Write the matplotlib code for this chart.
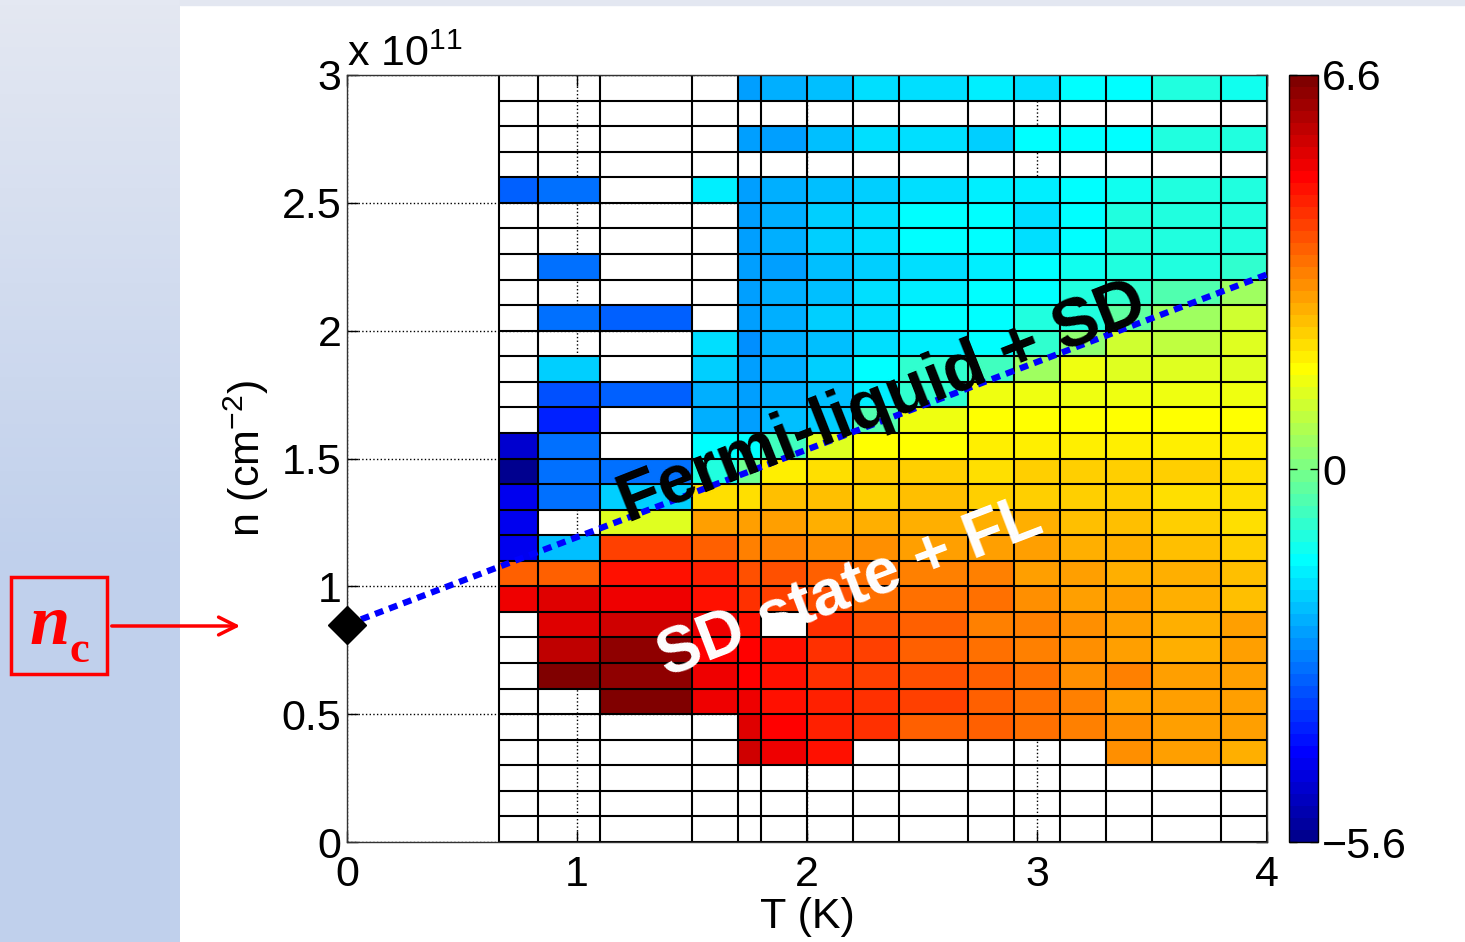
import numpy as np
import matplotlib
matplotlib.use('Agg')
import matplotlib.pyplot as plt
from matplotlib.patches import Rectangle
from matplotlib.colors import ListedColormap
from matplotlib.ticker import FuncFormatter

plt.rcParams['font.family'] = ['Liberation Sans', 'DejaVu Sans']
plt.rcParams['mathtext.fontset'] = 'custom'
plt.rcParams['mathtext.rm'] = 'Liberation Sans'
plt.rcParams['mathtext.it'] = 'Liberation Sans:italic'
plt.rcParams['mathtext.bf'] = 'Liberation Sans:bold'

nan = np.nan

# cell edges: temperature (K) and density (x 1e11 cm^-2)
T_edges = [0.66, 0.83, 1.1, 1.5, 1.7, 1.8, 2.0, 2.2, 2.4, 2.7, 2.9, 3.1, 3.3, 3.5, 3.8, 4.0]
n_edges = [0.0, 0.1, 0.2, 0.3, 0.4, 0.5, 0.6, 0.7, 0.8, 0.9, 1.0, 1.1, 1.2, 1.3, 1.4, 1.5,
           1.6, 1.7, 1.8, 1.9, 2.0, 2.1, 2.2, 2.3, 2.4, 2.5, 2.6, 2.7, 2.8, 2.9, 3.0]

# cell values, one list per density row, top row (2.9-3.0) first
empty = [nan] * 15
rows_top_down = [
    [nan, nan, nan, nan, -2.27, -2.08, -1.8, -1.51, -1.45, -1.32, -1.45, -1.1, -1.1, -0.8, -0.95],
    empty,
    [nan, nan, nan, nan, -2.2, -2.2, -1.9, -1.51, -1.5, -1.7, -1.1, -1.1, -1.1, -0.8, -0.8],
    empty,
    [-3.03, -2.84, nan, -1.32, -2.27, -2.08, -1.89, -1.7, -1.5, -1.35, -1.35, -1.1, -0.9, -0.75, -0.75],
    [nan, nan, nan, nan, -2.27, -2.05, -1.7, -1.51, -1.15, -1.1, -1.45, -1.1, -0.8, -0.75, -0.75],
    [nan, nan, nan, nan, -2.27, -2.08, -1.7, -1.51, -1.1, -1.15, -1.45, -1.1, -0.8, -0.8, -0.75],
    [nan, -2.9, nan, nan, -2.35, -2.2, -1.89, -1.65, -1.5, -1.35, -1.1, -0.95, -0.7, -0.7, -0.55],
    [nan, nan, nan, nan, -2.27, -2.05, -1.8, -1.5, -1.3, -1.1, -1.13, -0.8, -0.55, -0.2, 0.78],
    [nan, -2.9, -3.03, nan, -2.27, -2.05, -1.7, -1.5, -1.13, -1.1, -0.8, -0.7, 0.02, 0.78, 1.36],
    [nan, nan, nan, -1.51, -2.46, -2.08, -1.89, -1.5, -1.3, -1.1, -0.55, 0.59, 1.36, 1.2, 1.55],
    [nan, -1.7, nan, -1.7, -2.27, -2.05, -1.7, -1.1, -0.55, -0.4, 0.78, 1.74, 1.55, 1.55, 1.55],
    [nan, -3.22, -3.1, -2.08, -2.27, -2.05, -1.8, -1.3, -0.55, 1.74, 1.74, 1.74, 1.74, 1.65, 1.74],
    [nan, -3.79, nan, -2.05, -2.27, -1.95, -1.65, -0.2, 1.65, 1.93, 1.93, 1.93, 1.93, 1.93, 1.93],
    [-4.65, -2.84, nan, -1.1, -1.1, -0.45, 1.55, 1.85, 1.93, 2.12, 2.12, 2.12, 2.12, 2.12, 2.12],
    [-5.5, -2.84, -2.84, -0.75, 0.21, 2.12, 2.34, 2.43, 2.48, 2.39, 2.48, 2.48, 2.54, 2.43, 2.25],
    [-4.36, -2.84, -1.7, 2.39, 2.29, 2.66, 2.66, 2.57, 2.71, 2.57, 2.54, 2.48, 2.48, 2.34, 2.37],
    [-4.36, nan, 1.55, 3.0, 3.0, 3.0, 2.94, 2.94, 2.85, 2.8, 2.8, 2.69, 2.62, 2.48, 2.39],
    [-4.36, -1.89, 4.22, 3.76, 3.46, 3.46, 3.31, 3.31, 3.15, 3.15, 3.0, 2.94, 2.85, 2.69, 2.54],
    [3.91, 3.91, 4.7, 4.67, 4.06, 3.96, 3.76, 3.61, 3.46, 3.5, 3.15, 3.08, 2.94, 2.8, 2.69],
    [5.17, 5.36, 5.17, 4.83, 4.47, 4.28, 4.01, 3.68, 3.61, 3.61, 3.31, 3.08, 3.15, 2.85, 2.69],
    [nan, 5.36, 5.59, 5.1, 4.83, nan, 4.42, 4.06, 3.82, 3.52, 3.52, 3.31, 3.08, 2.94, 2.99],
    [nan, 5.74, 6.38, 4.9, 4.93, 4.83, 4.37, 4.22, 3.91, 3.61, 3.54, 3.31, 3.08, 2.85, 2.99],
    [nan, 6.45, 6.35, 5.25, 4.93, 4.83, 4.37, 4.13, 4.01, 3.82, 3.66, 3.31, 3.4, 3.08, 3.03],
    [nan, nan, 6.45, 5.17, 5.17, 4.83, 4.61, 4.37, 4.19, 3.82, 3.66, 3.52, 3.08, 3.08, 2.99],
    [nan, nan, nan, nan, 5.44, 4.93, 4.52, 4.37, 3.91, 3.87, 3.66, 3.54, 3.31, 3.08, 2.99],
    [nan, nan, nan, nan, 5.59, 5.17, 4.79, nan, nan, nan, nan, nan, 3.31, 3.08, 2.94],
    empty,
    empty,
    empty,
]

cmin, cmax = -5.6, 6.6
cbar_ticks = [-5.6, 0.33, 6.6]
cbar_labels = ['\u22125.6', '0', '6.6']

# crossover line (T, n) and n_c point
line_T = [0.0, 4.0]
line_n = [0.85, 2.22]
nc_T, nc_n = 0.0, 0.85

x_ticks = [0, 1, 2, 3, 4]
y_ticks = [0, 0.5, 1, 1.5, 2, 2.5, 3]


def matlab_jet(n=64):
    # same construction as MATLAB's jet(n)
    m = int(np.ceil(n / 4))
    u = np.concatenate([np.arange(1, m + 1) / m, np.ones(m - 1), np.arange(m, 0, -1) / m])
    g = int(np.ceil(m / 2)) - (1 if n % 4 == 1 else 0) + np.arange(1, len(u) + 1)
    r = g + m
    b = g - m
    g = g[g <= n]
    r = r[r <= n]
    b = b[b >= 1]
    J = np.zeros((n, 3))
    J[r - 1, 0] = u[:len(r)]
    J[g - 1, 1] = u[:len(g)]
    J[b - 1, 2] = u[len(u) - len(b):]
    return ListedColormap(J)


W, H = 1465, 942
fig = plt.figure(figsize=(W / 100, H / 100), dpi=100)
fig.patch.set_facecolor('white')

# left slide background gradient
bg = fig.add_axes([0, 0, 180 / W, 1])
yy = np.linspace(0, 1, 200)
top_c = np.array([228, 232, 242]) / 255
bot_c = np.array([192, 208, 236]) / 255
frac = np.clip(yy / 0.6, 0, 1)[:, None]
grad = top_c * (1 - frac) + bot_c * frac
bg.imshow(grad[:, None, :], aspect='auto', extent=[0, 1, 0, 1], origin='upper')
bg.axis('off')
fig.patches.append(Rectangle((180 / W, 1 - 5 / H), 1, 5 / H, transform=fig.transFigure,
                             color='#E3E7F1', zorder=0))

ax = fig.add_axes([347 / W, 100 / H, 920 / W, 767 / H])
data = np.ma.masked_invalid(np.array(rows_top_down[::-1]))
mesh = ax.pcolormesh(T_edges, n_edges, data, cmap=matlab_jet(64), vmin=cmin, vmax=cmax, zorder=1)
ax.vlines(T_edges, n_edges[0], n_edges[-1], color='k', lw=1.5, zorder=2)
ax.hlines(n_edges, T_edges[0], T_edges[-1], color='k', lw=1.5, zorder=2)

ax.plot(line_T, line_n, color='#0000FF', lw=4.5, linestyle=(0, (1.4, 1.0)),
        dash_capstyle='butt', zorder=4, clip_on=False)
ax.plot([nc_T], [nc_n], marker='D', color='k', markersize=19, zorder=6, clip_on=False)

ax.text(2.33, 1.715, 'Fermi-liquid + SD', rotation=21.5, rotation_mode='anchor',
        ha='center', va='center', fontsize=49, fontweight='bold', color='k', zorder=5)
ax.text(2.19, 0.99, 'SD state + FL', rotation=21, rotation_mode='anchor',
        ha='center', va='center', fontsize=46, fontweight='bold', color='white', zorder=5)

ax.set_xlim(0, 4)
ax.set_ylim(0, 3)
ax.set_xticks(x_ticks)
ax.set_yticks(y_ticks)
ax.yaxis.set_major_formatter(FuncFormatter(lambda v, p: '%g' % v))
ax.grid(True, linestyle=':', color='k', lw=1.0)
ax.set_axisbelow(True)
ax.tick_params(direction='in', length=8, width=1, labelsize=31, top=True, right=True)
ax.tick_params(axis='x', pad=9)
ax.tick_params(axis='y', pad=4)
for s in ax.spines.values():
    s.set_linewidth(1.0)
    s.set_color('#333333')
ax.set_xlabel('T (K)', fontsize=31, labelpad=2)
ax.set_ylabel('n (cm$^{-2}$)', fontsize=31, labelpad=8)
ax.text(0.0, 1.0, 'x 10$^{11}$', transform=ax.transAxes, ha='left', va='bottom', fontsize=31)

cax = fig.add_axes([1289 / W, 100 / H, 29 / W, 767 / H])
cb = fig.colorbar(mesh, cax=cax, ticks=cbar_ticks)
cb.ax.set_yticklabels(cbar_labels)
cb.ax.tick_params(direction='in', left=True, right=True, length=6, width=1, labelsize=31, pad=3)
cb.outline.set_linewidth(1.0)

# n_c marker box and arrow
fig.patches.append(Rectangle((11 / W, 268 / H), 96 / W, 97 / H, transform=fig.transFigure,
                             fill=False, ec='red', lw=2.5))
fig.text(50 / W, 1 - 627 / H, 'n', family='Liberation Serif', style='italic', fontweight='bold',
         color='red', fontsize=52, ha='center', va='center')
fig.text(79 / W, 1 - 651 / H, 'c', family='Liberation Serif', fontweight='bold',
         color='red', fontsize=32, ha='center', va='center')
ax.annotate('', xy=(243 / W, 1 - 626 / H), xytext=(109 / W, 1 - 626 / H),
            xycoords='figure fraction', textcoords='figure fraction', annotation_clip=False,
            arrowprops=dict(arrowstyle='->', color='red', lw=2.5, mutation_scale=32))

fig.savefig('out.png', dpi=100)
